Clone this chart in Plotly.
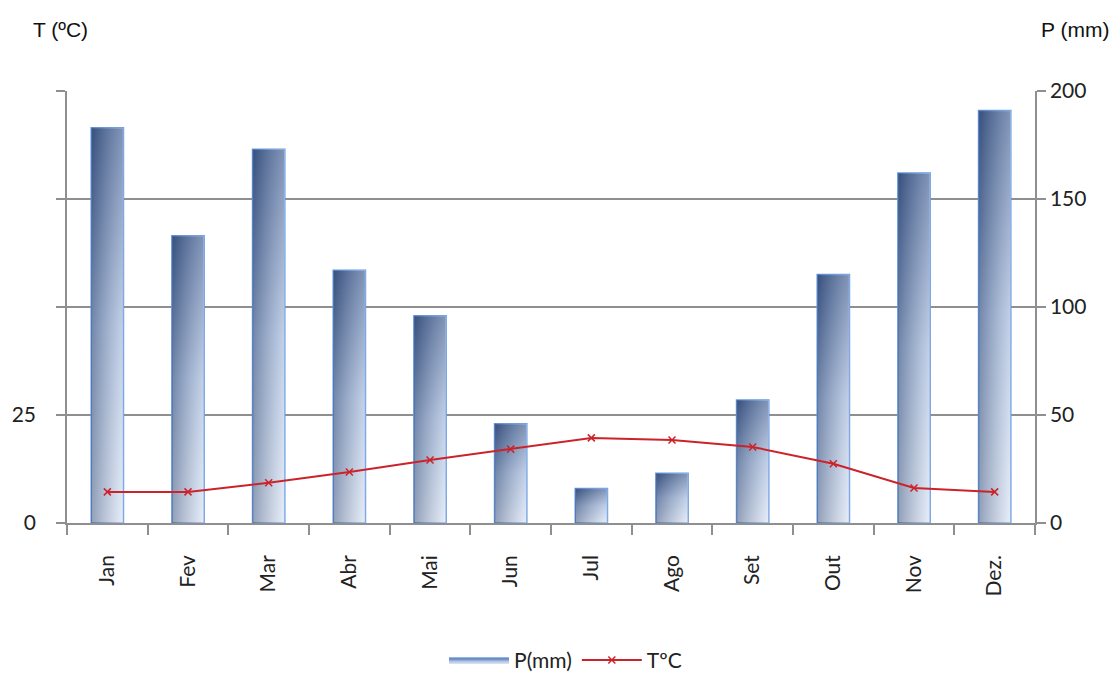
import plotly.graph_objects as go

months = ["Jan", "Fev", "Mar", "Abr", "Mai", "Jun", "Jul", "Ago", "Set", "Out", "Nov", "Dez."]
precip_mm = [183, 133, 173, 117, 96, 46, 16, 23, 57, 115, 162, 191]
temp_c = [7.2, 7.2, 9.3, 11.8, 14.6, 17.1, 19.7, 19.2, 17.6, 13.7, 8.1, 7.2]

BAR_HALF = 0.2
fig = go.Figure()

for i, p in enumerate(precip_mm):
    xs = [i - BAR_HALF, i - BAR_HALF, i + BAR_HALF, i + BAR_HALF, i - BAR_HALF]
    ys = [0, p, p, 0, 0]
    fig.add_trace(go.Scatter(
        x=xs, y=ys, mode="lines", fill="toself",
        line=dict(color="#6a9be0", width=1.5),
        fillgradient=dict(type="vertical",
                          colorscale=[[0, "#dde7f6"], [0.5, "#a9bedf"], [1, "#4a6698"]]),
        name="P(mm)", legendgroup="p", showlegend=(i == 0),
        hoverinfo="skip", yaxis="y",
    ))
    fig.add_trace(go.Scatter(
        x=xs, y=ys, mode="lines", fill="toself",
        line=dict(color="rgba(0,0,0,0)", width=0),
        fillgradient=dict(type="horizontal",
                          colorscale=[[0, "rgba(20,40,80,0.38)"], [1, "rgba(255,255,255,0.3)"]]),
        showlegend=False, hoverinfo="skip", yaxis="y",
    ))

fig.add_trace(go.Scatter(
    x=list(range(len(months))), y=temp_c, mode="lines+markers",
    name="TºC", yaxis="y2",
    line=dict(color="#cc2229", width=2),
    marker=dict(symbol="x-thin", size=7, line=dict(color="#cc2229", width=1.5)),
))

tick_font = dict(family="Lato, Open Sans, sans-serif", size=21, color="#222222")
grid_col = "#8f8f8f"

fig.update_layout(
    width=1117, height=677,
    margin=dict(l=67, r=82, t=91, b=154, autoexpand=False),
    paper_bgcolor="white", plot_bgcolor="white",
    showlegend=True,
    legend=dict(orientation="h", x=0.515, xanchor="center", y=-0.318, yanchor="middle",
                font=dict(family="Lato, Open Sans, sans-serif", size=21, color="#222222"),
                itemwidth=60, tracegroupgap=40),
    xaxis=dict(
        range=[-0.5, 11.5], tickmode="array", automargin=False,
        tickvals=list(range(len(months))), ticktext=months, tickangle=-90,
        ticks="", showgrid=False, zeroline=False,
        showline=True, linecolor=grid_col, linewidth=1.5,
        tickfont=tick_font, ticklabelstandoff=22,
        minor=dict(tickmode="array", tickvals=[i - 0.5 for i in range(len(months) + 1)],
                   ticks="outside", ticklen=10, tickcolor=grid_col, tickwidth=1.5, showgrid=False),
    ),
    yaxis=dict(
        side="right", range=[0, 200], tickmode="array", tickvals=[0, 50, 100, 150, 200],
        automargin=False,
        showgrid=True, gridcolor=grid_col, gridwidth=1.5, zeroline=False,
        showline=True, linecolor=grid_col, linewidth=1.5,
        ticks="outside", ticklen=9, tickcolor=grid_col, tickwidth=1.5,
        tickfont=tick_font,
    ),
    yaxis2=dict(
        overlaying="y", side="left", range=[0, 100], tickmode="array", automargin=False,
        tickvals=[0, 25, 50, 75, 100], ticktext=["0", "25", "", "", ""],
        showgrid=False, zeroline=False,
        showline=True, linecolor=grid_col, linewidth=1.5,
        ticks="outside", ticklen=9, tickcolor=grid_col, tickwidth=1.5,
        tickfont=tick_font, ticklabelstandoff=16,
    ),
    annotations=[
        dict(text="T (ºC)", xref="paper", yref="paper", x=(31 - 67) / 968, y=1 + (91 - 30) / 432,
             xanchor="left", yanchor="middle", showarrow=False,
             font=dict(family="Liberation Sans, Arial, sans-serif", size=21, color="#111111")),
        dict(text="P (mm)", xref="paper", yref="paper", x=(1111 - 67) / 968, y=1 + (91 - 30) / 432,
             xanchor="right", yanchor="middle", showarrow=False,
             font=dict(family="Liberation Sans, Arial, sans-serif", size=21, color="#111111")),
    ],
)

fig.write_html("out.html")
